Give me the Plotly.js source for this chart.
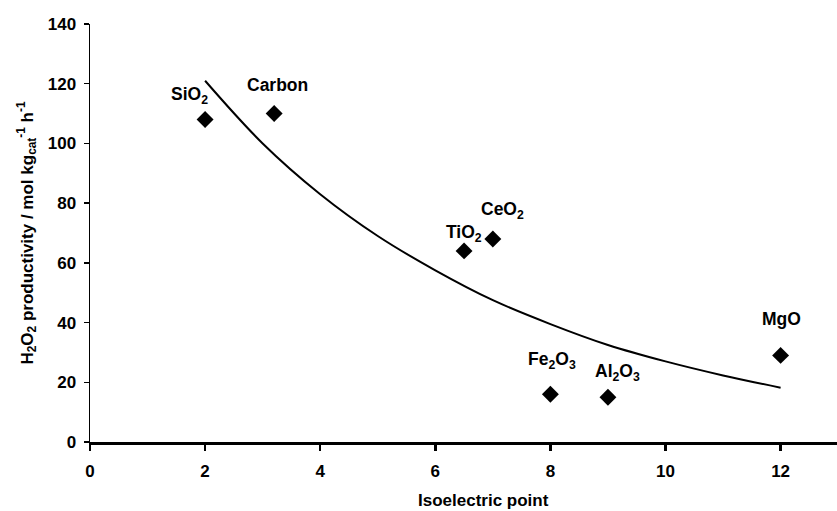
<!DOCTYPE html>
<html>
<head>
<meta charset="utf-8">
<script src="https://cdn.plot.ly/plotly-3.0.1.min.js"></script>
<style>html,body{margin:0;padding:0;background:#fff;}#chart{width:837px;height:511px;}</style>
</head>
<body>
<div id="chart"></div>
<script>
// Measured supports
var materials = ["SiO<sub>2</sub>", "Carbon", "TiO<sub>2</sub>", "CeO<sub>2</sub>", "Fe<sub>2</sub>O<sub>3</sub>", "Al<sub>2</sub>O<sub>3</sub>", "MgO"];
var isoPoint = [2, 3.2, 6.5, 7, 8, 9, 12];
var productivity = [108, 110, 64, 68, 16, 15, 29];
// Label positions
var labelX = [1.73, 3.26, 6.5, 7.16, 8.02, 9.16, 12.02];
var labelY = [116, 119.5, 70, 77.6, 27.4, 23.2, 41.1];
// Trend curve
var curveX = [2, 3, 4, 5, 6, 7, 8, 9, 10, 11, 12];
var curveY = [121, 100, 83, 69, 57.5, 47.5, 39.5, 32.5, 27, 22.3, 18.2];
var xTicks = [0, 2, 4, 6, 8, 10, 12];
var yTicks = [0, 20, 40, 60, 80, 100, 120, 140];

var font = "Liberation Sans, Arial, sans-serif";

var traces = [
  {x: curveX, y: curveY, mode: "lines", line: {color: "#000", width: 2, shape: "spline", smoothing: 1}, hoverinfo: "skip"},
  {x: isoPoint, y: productivity, mode: "markers", marker: {symbol: "diamond", size: 13, color: "#000"}}
];

var annotations = materials.map(function (m, i) {
  return {x: labelX[i], y: labelY[i], text: "<b>" + m + "</b>", showarrow: false,
          font: {family: font, size: 17.5, color: "#000"}, xanchor: "center", yanchor: "middle"};
});
annotations.push({xref: "paper", yref: "paper", x: 0.527, y: -0.139, text: "<b>Isoelectric point</b>",
  showarrow: false, font: {family: font, size: 17, color: "#000"}, xanchor: "center", yanchor: "middle"});

var layout = {
  width: 837, height: 511,
  margin: {l: 90, r: 0, t: 24, b: 69},
  paper_bgcolor: "#fff", plot_bgcolor: "#fff",
  showlegend: false,
  font: {family: font, color: "#000"},
  xaxis: {
    range: [0, 12.98], tickvals: xTicks, ticktext: xTicks.map(function (v) { return "<b>" + v + "</b>"; }),
    showgrid: false, zeroline: false, showline: true, linecolor: "#000", linewidth: 3,
    ticks: "outside", ticklen: 6, tickwidth: 2.5, tickcolor: "#000",
    tickfont: {family: font, size: 17, color: "#000"}, ticklabelstandoff: 6
  },
  yaxis: {
    range: [0, 140], tickvals: yTicks, ticktext: yTicks.map(function (v) { return "<b>" + v + "</b>"; }),
    showgrid: false, zeroline: false, showline: true, linecolor: "#000", linewidth: 1.5,
    ticks: "outside", ticklen: 5, tickwidth: 1.5, tickcolor: "#000",
    tickfont: {family: font, size: 17, color: "#000"}, ticklabelstandoff: 4,
    title: {text: "<b>H<sub>2</sub>O<sub>2</sub> productivity / mol kg<sub>cat</sub><sup>-1</sup> h<sup>-1</sup></b>",
            font: {family: font, size: 17, color: "#000"}, standoff: 10}
  },
  annotations: annotations
};

Plotly.newPlot("chart", traces, layout, {displayModeBar: false, staticPlot: true});
</script>
</body>
</html>
